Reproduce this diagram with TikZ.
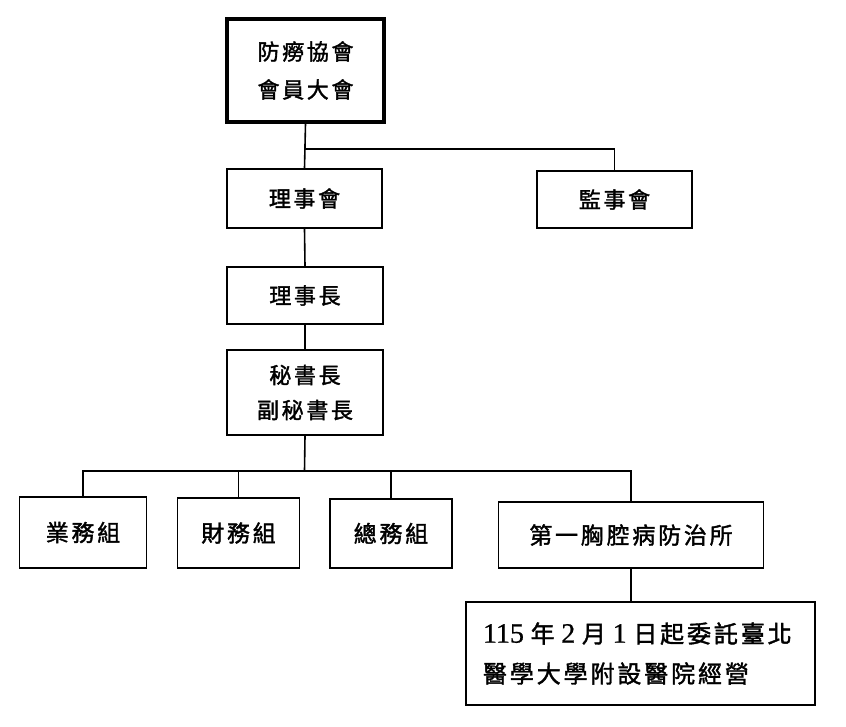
\documentclass[tikz,border=0pt]{standalone}
\usepackage{fontspec}
\newfontfamily\cjk[LetterSpace=12,FakeBold=1.6]{Noto Sans CJK TC}
\newfontfamily\numfont[FakeBold=0.8]{Liberation Serif}
\newcommand{\dg}[1]{{\numfont\fontsize{28}{40}\selectfont #1}}
\begin{document}
\begin{tikzpicture}[x=1pt,y=-1pt,
  box/.style={draw,line width=1.6pt,inner sep=0pt,align=center,
    font=\cjk\fontsize{22}{38}\selectfont},
  conn/.style={line width=1.6pt}]
\useasboundingbox (0,0) rectangle (846,727);
\node[box,line width=3.6pt,minimum width=157,minimum height=103] (top) at (305.5,70.5) {防癆協會\\會員大會};
\node[box,minimum width=155,minimum height=59] (ls) at (304.5,198.5) {理事會};
\node[box,minimum width=155,minimum height=57] (js) at (614.5,199.5) {監事會};
\node[box,minimum width=156,minimum height=57] (lsz) at (305,295.5) {理事長};
\node[box,minimum width=156,minimum height=85,font=\cjk\fontsize{22}{35}\selectfont] (mss) at (305,392.5) {秘書長\\副秘書長};
\node[box,minimum width=127,minimum height=71,font=\cjk\fontsize{23}{38}\selectfont] (yw) at (83,532.5) {業務組};
\node[box,minimum width=122,minimum height=70,font=\cjk\fontsize{23}{38}\selectfont] (cw) at (238.5,533) {財務組};
\node[box,minimum width=122,minimum height=69,font=\cjk\fontsize{23}{38}\selectfont] (zw) at (391,533.5) {總務組};
\node[box,minimum width=265,minimum height=66,font=\cjk\fontsize{23}{38}\selectfont] (dy) at (631,535) {第一胸腔病防治所};
\node[box,minimum width=349,minimum height=103,inner xsep=17,text width=315,align=left,
  font=\cjk\fontsize{24}{40}\selectfont] (note) at (640.5,653.5)
  {\dg{115}\;年\;\dg{2}\;月\;\dg{1}\;日起委託臺北\\醫學大學附設醫院經營};
\coordinate (b1) at (304.5,149);
\coordinate (b2) at (304.5,471);
\draw[conn] (top.south) -- (ls.north);
\draw[conn] (b1) -| (js.north);
\draw[conn] (ls.south) -- (lsz.north);
\draw[conn] (lsz.south) -- (mss.north);
\draw[conn] (mss.south) -- (b2);
\draw[conn] (yw.north) |- (b2 -| dy.north) -- (dy.north);
\draw[conn] (cw.north) -- (cw.north |- b2);
\draw[conn] (zw.north) -- (zw.north |- b2);
\draw[conn] (dy.south) -- (note.north -| dy.south);
\end{tikzpicture}
\end{document}
